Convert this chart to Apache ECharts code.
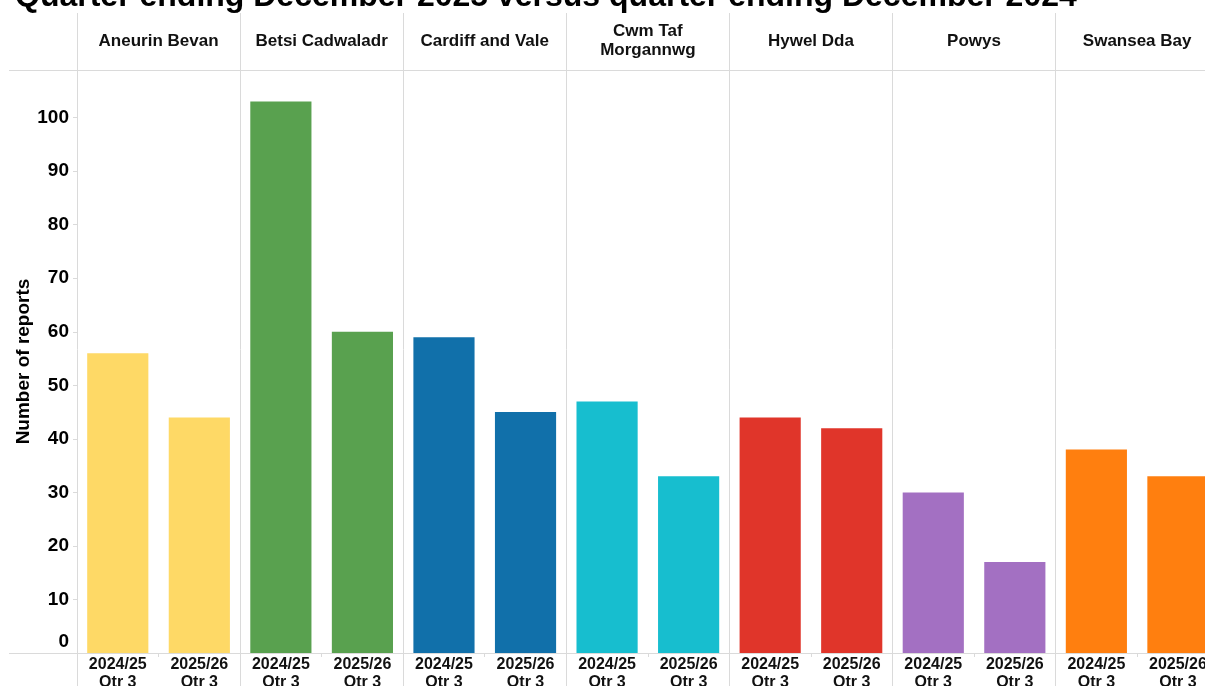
<!DOCTYPE html>
<html>
<head>
<meta charset="utf-8">
<script src="https://cdn.jsdelivr.net/npm/echarts@6/dist/echarts.min.js"></script>
<style>
  html, body { margin: 0; padding: 0; background: #fff; }
  #chart { width: 1205px; height: 686px; }
</style>
</head>
<body>
<div id="chart"></div>
<script>
// Health boards (column panels) and the two quarters compared in each
const boards = ['Aneurin Bevan', 'Betsi Cadwaladr', 'Cardiff and Vale', 'Cwm Taf\nMorgannwg', 'Hywel Dda', 'Powys', 'Swansea Bay'];
const periods = ['2024/25\nQtr 3', '2025/26\nQtr 3'];

// Number of reports per board: quarter ending December 2024, then December 2025
const reportsQ3_2024 = [56, 103, 59, 47, 44, 30, 38];
const reportsQ3_2025 = [44, 60, 45, 33, 42, 17, 33];

const yTicks = [0, 10, 20, 30, 40, 50, 60, 70, 80, 90, 100];

const boardColors = ['#FED966', '#59A14F', '#1170AA', '#17BECF', '#E0352A', '#A370C2', '#FF7F0F'];
const FONT = '"Liberation Sans", Arial, sans-serif';
const RULE = '#DADADA';

// One category per bar: board|period
const cats = [];
const bars = [];
boards.forEach((b, i) => {
  [reportsQ3_2024[i], reportsQ3_2025[i]].forEach((v, j) => {
    cats.push(b + '|' + periods[j]);
    bars.push({ value: v, itemStyle: { color: boardColors[i] } });
  });
});

const chart = echarts.init(document.getElementById('chart'), null, { renderer: 'canvas' });

// Panels run past the right edge of the canvas (last panel is clipped)
const PANEL_W = 163.1 * 7;

chart.setOption({
  animation: false,
  backgroundColor: '#fff',
  title: {
    text: 'Quarter ending December 2025 versus quarter ending December 2024',
    left: 10,
    top: -24,
    textStyle: { fontFamily: FONT, fontWeight: 'bold', fontSize: 32, lineHeight: 32, color: '#000' }
  },
  grid: [
    { left: 77, width: PANEL_W, top: 70, height: 583, containLabel: false, outerBoundsMode: 'none' },
    { left: 77, width: PANEL_W, top: 13, height: 673, containLabel: false, outerBoundsMode: 'none' }
  ],
  xAxis: [
    {
      type: 'category',
      gridIndex: 0,
      data: cats,
      axisLine: { show: false },
      axisTick: { show: true, length: 4, interval: 0, lineStyle: { color: RULE } },
      axisLabel: {
        interval: 0,
        margin: 3,
        fontFamily: FONT, fontWeight: 'bold', fontSize: 16, lineHeight: 18, color: '#111',
        formatter: v => v.split('|')[1]
      }
    },
    {
      type: 'category',
      gridIndex: 0,
      position: 'top',
      data: boards,
      axisLine: { show: false },
      axisTick: { show: false },
      axisLabel: {
        interval: 0,
        margin: 29,
        verticalAlign: 'middle',
        fontFamily: FONT, fontWeight: 'bold', fontSize: 17, lineHeight: 19, color: '#111'
      }
    },
    {
      type: 'category',
      gridIndex: 1,
      data: boards,
      axisLine: { show: false },
      axisTick: { show: false },
      axisLabel: { show: false },
      splitLine: { show: true, interval: 0, lineStyle: { color: RULE, width: 1 } }
    }
  ],
  yAxis: [
    {
      type: 'value',
      gridIndex: 0,
      min: 0,
      max: 108.9,
      interval: 10,
      name: 'Number of reports',
      nameLocation: 'middle',
      nameGap: 44,
      nameMoveOverlap: false,
      nameTextStyle: { fontFamily: FONT, fontWeight: 'bold', fontSize: 19, color: '#000' },
      axisLine: { show: false },
      axisTick: { show: true, length: 4, lineStyle: { color: RULE } },
      splitLine: { show: false },
      axisLabel: {
        margin: 8,
        showMaxLabel: false,
        fontFamily: FONT, fontWeight: 'bold', fontSize: 19, lineHeight: 22, color: '#000',
        formatter: v => (yTicks.indexOf(v) < 0 ? '' : (v === 0 ? '0\n' : String(v)))
      }
    },
    { type: 'value', gridIndex: 1, show: false, min: 0, max: 1 }
  ],
  graphic: [
    { type: 'line', silent: true, z: 0, shape: { x1: 9, y1: 70.5, x2: 1205, y2: 70.5 }, style: { stroke: RULE, lineWidth: 1 } },
    { type: 'line', silent: true, z: 0, shape: { x1: 9, y1: 653.5, x2: 1205, y2: 653.5 }, style: { stroke: RULE, lineWidth: 1 } }
  ],
  series: [
    {
      type: 'bar',
      xAxisIndex: 0,
      yAxisIndex: 0,
      data: bars,
      barWidth: '75%',
      z: 3
    }
  ]
});
</script>
</body>
</html>
